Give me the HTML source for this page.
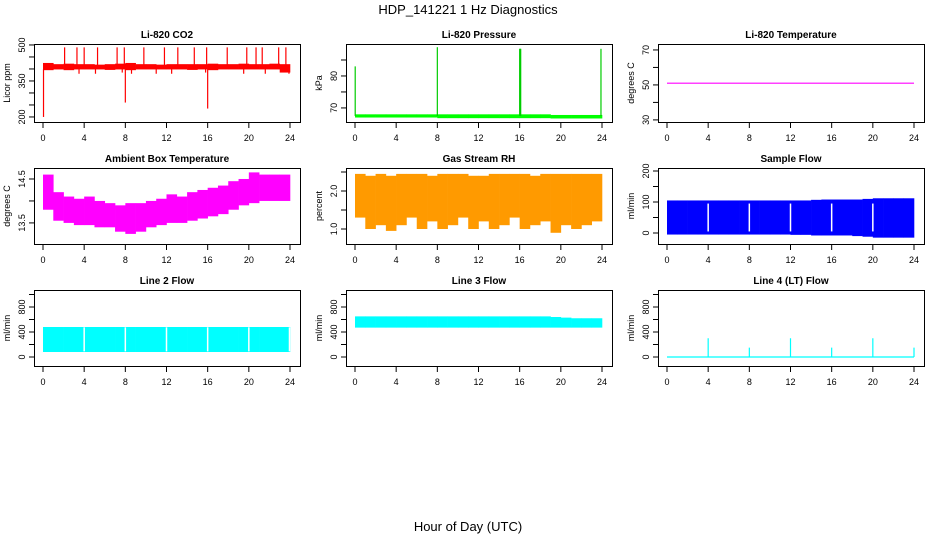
<!DOCTYPE html>
<html><head><meta charset="utf-8"><style>
body{margin:0;background:#fff}
svg{display:block;font-family:"Liberation Sans",sans-serif}
</style></head><body>
<svg id="c" width="936" height="540" viewBox="0 0 936 540">
<text x="468" y="14" text-anchor="middle" font-size="13">HDP_141221  1 Hz Diagnostics</text>
<text x="468" y="531" text-anchor="middle" font-size="13">Hour of Day (UTC)</text>
</svg>
<script>
const hours=[0,1,2,3,4,5,6,7,8,9,10,11,12,13,14,15,16,17,18,19,20,21,22,23,24];
const xTicks=[0,4,8,12,16,20,24];
// CO2
const co2Hi=[425,420,422,420,420,418,420,422,425,420,420,418,420,420,420,420,422,420,420,422,420,420,422,420];
const co2Lo=[395,398,395,398,398,398,396,398,395,398,398,398,398,398,396,398,395,398,398,398,398,398,398,385];
const co2UpX=[2.1,3.3,4.0,5.3,7.2,7.9,9.8,11.8,13.1,14.7,15.9,17.9,19.8,20.7,21.3,22.9,23.6];
const co2UpV=[490,490,490,490,490,490,490,490,490,490,490,490,490,490,490,490,490];
const co2DnX=[0.05,8.0,16.0,3.5,5.1,7.7,8.6,11.0,12.5,15.8,19.5,21.6,23.9];
const co2DnV=[200,260,235,380,380,385,380,380,380,385,380,380,380];
// Pressure
const presHi=[68,68,68,68,68,68,68,68,68,68,68,68,68,68,68,68,68,68,68,67.8,67.8,67.8,67.8,67.8];
const presLo=[67,67,67,67,67,67,67,67,66.8,66.8,66.8,66.8,66.8,66.8,66.8,66.8,66.8,66.8,66.8,66.7,66.7,66.7,66.7,66.7];
const presSpkX=[0.02,8.0,16.0,16.05,16.1,23.9];
const presSpkV=[83,89,88.5,88.5,88.5,88.5];
// Li-820 temperature
const tempV=[51,51,51,51,51,51,51,51,51,51,51,51,51,51,51,51,51,51,51,51,51,51,51,51,51];
// Ambient box temperature
const ambHi=[14.6,14.2,14.1,14.05,14.1,14.0,13.95,13.9,13.95,13.95,14.0,14.05,14.15,14.1,14.2,14.25,14.3,14.35,14.45,14.5,14.65,14.6,14.6,14.6];
const ambLo=[13.8,13.55,13.5,13.45,13.45,13.4,13.4,13.3,13.25,13.3,13.4,13.45,13.5,13.5,13.55,13.6,13.65,13.7,13.8,13.9,13.95,14.0,14.0,14.0];
// Gas stream RH
const rhHi=[2.45,2.4,2.45,2.4,2.45,2.45,2.45,2.4,2.45,2.45,2.45,2.4,2.4,2.45,2.45,2.45,2.45,2.4,2.45,2.45,2.45,2.45,2.45,2.45];
const rhLo=[1.3,1.0,1.1,0.95,1.1,1.3,1.0,1.2,1.0,1.1,1.3,1.0,1.2,1.0,1.1,1.3,1.0,1.1,1.2,0.9,1.1,1.0,1.1,1.2];
// Sample flow
const sfHi=[105,105,105,105,105,105,105,105,105,105,105,105,105,105,107,108,108,108,108,110,112,112,112,112];
const sfLo=[-5,-5,-5,-5,-5,-5,-5,-5,-5,-5,-5,-5,-6,-6,-8,-8,-8,-8,-10,-12,-15,-15,-15,-15];
const sfGapX=[4,8,12,16,20];
// Line 2 flow
const l2Hi=[480,480,480,480,480,480,480,480,480,480,480,480,480,480,480,480,480,480,480,480,480,480,480,480];
const l2Lo=[80,80,80,80,80,80,80,80,80,80,80,80,80,80,80,80,80,80,80,80,80,80,80,80];
const l2GapX=[4,8,12,16,20,23.95];
// Line 3 flow
const l3Hi=[650,650,650,650,650,650,650,650,650,650,650,650,650,650,650,650,650,650,650,640,630,620,620,620];
const l3Lo=[470,470,470,470,470,470,470,470,470,470,470,470,470,470,470,470,470,470,470,470,470,470,470,470];
// Line 4 flow
const l4Base=[0,0,0,0,0,0,0,0,0,0,0,0,0,0,0,0,0,0,0,0,0,0,0,0,0];
const l4SpkX=[4,8,12,16,20,24];
const l4SpkV=[300,150,300,150,300,150];

const svg=document.getElementById('c');
const NS='http://www.w3.org/2000/svg';
function mk(tag,attrs,parent){const e=document.createElementNS(NS,tag);for(const k in attrs)e.setAttribute(k,attrs[k]);(parent||svg).appendChild(e);return e;}

function panel(name,title,ylab,col,row,d0,d1,yTicks,yLabels){
  const left=[34,346,658][col], top=[44,168,290][row], W=266, H=[78,76,76][row];
  const g=mk('g',{});
  
  
  const x=v=>left+9+v*247/24;
  const y=v=>top+(d1-v)/(d1-d0)*H;
  const t=mk('text',{x:left+W/2,y:top-6,'text-anchor':'middle','font-size':'10','font-weight':'bold'},g);
  t.textContent=title;
  
  
  const yl=mk('text',{transform:`translate(${left-24},${top+H/2}) rotate(-90)`,'text-anchor':'middle','font-size':'9'},g);
  yl.textContent=ylab;
  
  
  const ax=mk('g',{stroke:'#000','stroke-width':'1',fill:'none'},g);
  
  
  mk('rect',{x:left+.5,y:top+.5,width:W,height:H},ax);
  xTicks.forEach(v=>{mk('line',{x1:x(v),x2:x(v),y1:top+H,y2:top+H+6},ax);
    const tl=mk('text',{x:x(v),y:top+H+19,'text-anchor':'middle','font-size':'9',fill:'#000',stroke:'none'},g);tl.textContent=v;
    
    });
  yTicks.forEach(v=>{mk('line',{x1:left-5,x2:left,y1:y(v),y2:y(v)},ax);});
  yLabels.forEach(v=>{const tl=mk('text',{transform:`translate(${left-9},${y(v)}) rotate(-90)`,'text-anchor':'middle','font-size':'9'},g);tl.textContent=v;
    
    });
  return {g,x,y};
}
function band(p,lo,hi,color,name){
  const s=mk('g',{fill:color},p.g);
  
  
  for(let i=0;i<hi.length;i++){
    const x0=p.x(hours[i]),x1=p.x(hours[i+1]);
    mk('rect',{x:x0,y:p.y(hi[i]),width:x1-x0+0.3,height:p.y(lo[i])-p.y(hi[i])},s);
  }
  return s;
}
function spikes(p,xs,from,to,color,name,w){
  const s=mk('g',{stroke:color,'stroke-width':w||1.2},p.g);
  
  
  xs.forEach((v,i)=>{const f=Array.isArray(from)?from[i]:from;mk('line',{x1:p.x(v),x2:p.x(v),y1:p.y(f),y2:p.y(to[i])},s);});
}
function gaps(p,xs,lo,hi,name){
  const s=mk('g',{stroke:'#fff','stroke-width':1.5},p.g);
  
  
  xs.forEach(v=>mk('line',{x1:p.x(v),x2:p.x(v),y1:p.y(hi),y2:p.y(lo)},s));
}
function line(p,vals,color,name){
  const pl=mk('polyline',{fill:'none',stroke:color,'stroke-width':1.2,points:vals.map((v,i)=>p.x(hours[i])+','+p.y(v)).join(' ')},p.g);
  
  
}

let p;
p=panel('co2','Li-820 CO2','Licor ppm',0,0,179,504,[200,250,300,350,400,450,500],['200','350','500']);
band(p,co2Lo,co2Hi,'#ff0000','co2-series');
spikes(p,co2UpX,410,co2UpV,'#ff0000','co2-up-spikes');
spikes(p,co2DnX,400,co2DnV,'#ff0000','co2-down-spikes');

p=panel('pressure','Li-820 Pressure','kPa',1,0,65.6,90,[70,75,80,85],['70','80']);
band(p,presLo,presHi,'#00ff00','pressure-series');
spikes(p,presSpkX,67.5,presSpkV,'#00cc00','pressure-spikes');

p=panel('li820-temp','Li-820 Temperature','degrees C',2,0,28.8,73.4,[30,40,50,60,70],['30','50','70']);
line(p,tempV,'#ff00ff','li820-temp-series');

p=panel('ambient','Ambient Box Temperature','degrees C',0,1,13.02,14.75,[13.5,14.0,14.5],['13.5','14.5']);
band(p,ambLo,ambHi,'#ff00ff','ambient-series');

p=panel('rh','Gas Stream RH','percent',1,1,0.605,2.605,[1.0,1.5,2.0,2.5],['1.0','2.0']);
band(p,rhLo,rhHi,'#ff9a00','rh-series');

p=panel('sample-flow','Sample Flow','ml/min',2,1,-35.5,209.7,[0,50,100,150,200],['0','100','200']);
band(p,sfLo,sfHi,'#0000ff','sample-flow-series');
gaps(p,sfGapX,5,95,'sample-flow-gaps');

p=panel('line2','Line 2 Flow','ml/min',0,2,-144,1072,[0,200,400,600,800,1000],['0','400','800']);
band(p,l2Lo,l2Hi,'#00ffff','line2-series');
gaps(p,l2GapX,90,475,'line2-gaps');

p=panel('line3','Line 3 Flow','ml/min',1,2,-144,1072,[0,200,400,600,800,1000],['0','400','800']);
band(p,l3Lo,l3Hi,'#00ffff','line3-series');

p=panel('line4','Line 4 (LT) Flow','ml/min',2,2,-144,1072,[0,200,400,600,800,1000],['0','400','800']);
line(p,l4Base,'#00ffff','line4-series');
spikes(p,l4SpkX,0,l4SpkV,'#00ffff','line4-spikes');
</script>
</body></html>
